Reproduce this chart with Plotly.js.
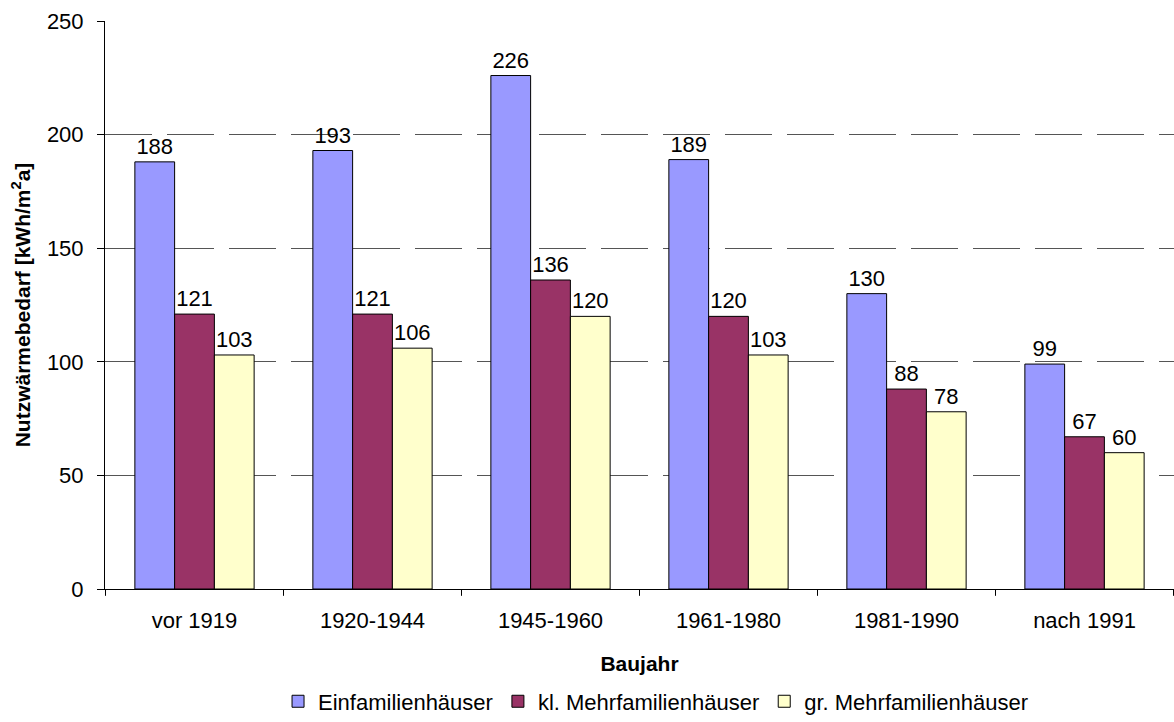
<!DOCTYPE html>
<html><head><meta charset="utf-8">
<script src="https://cdn.plot.ly/plotly-3.0.1.min.js"></script>
<style>html,body{margin:0;padding:0;background:#fff;}#chart{width:1174px;height:722px;}</style>
</head><body><div id="chart"></div>
<script>
var categories = ["vor 1919", "1920-1944", "1945-1960", "1961-1980", "1981-1990", "nach 1991"];
var einfamilien = [188, 193, 226, 189, 130, 99];
var klMehrfamilien = [121, 121, 136, 120, 88, 67];
var grMehrfamilien = [103, 106, 120, 103, 78, 60];
var seriesNames = ["Einfamilienhäuser", "kl. Mehrfamilienhäuser", "gr. Mehrfamilienhäuser"];
var colors = ["#9999FF", "#993366", "#FFFFCC"];
var font = "Liberation Sans, Arial, sans-serif";

function mk(vals, i) {
  return {
    type: "bar", x: categories, y: vals, name: seriesNames[i],
    marker: {color: colors[i], line: {color: "#000", width: 1}},
    text: vals.map(String), textposition: "outside", cliponaxis: false,
    constraintext: "none",
    textfont: {family: font, size: 22, color: "#000"}
  };
}
var data = [mk(einfamilien, 0), mk(klMehrfamilien, 1), mk(grMehrfamilien, 2)];
var layout = {
  width: 1174, height: 722,
  margin: {l: 105, r: 0, t: 21, b: 133, autoexpand: false},
  paper_bgcolor: "#fff", plot_bgcolor: "#fff",
  barmode: "group", bargap: 0.33, bargroupgap: 0,
  font: {family: font, size: 22, color: "#000"},
  showlegend: true,
  legend: {orientation: "h", x: 0.515, xanchor: "center", y: -0.198, yanchor: "middle",
           font: {family: font, size: 22}, itemwidth: 30, tracegroupgap: 0,
           bgcolor: "rgba(0,0,0,0)"},
  xaxis: {
    title: {text: "<b>Baujahr</b>", font: {family: font, size: 21}, standoff: 23},
    tickmode: "array", tickvals: categories, ticktext: categories,
    showline: true, linecolor: "#000", linewidth: 1, automargin: false,
    ticks: "", showgrid: false, zeroline: false, ticklabelstandoff: 12,
    tickfont: {family: font, size: 22}
  },
  yaxis: {
    title: {text: "<b>Nutzwärmebedarf [kWh/m<sup>2</sup>a]</b>", font: {family: font, size: 21}, standoff: 10},
    range: [0, 250], dtick: 50, tick0: 0, automargin: false,
    showline: true, linecolor: "#000", linewidth: 1,
    ticks: "outside", ticklen: 7, tickcolor: "#000", ticklabelstandoff: 9,
    showgrid: true, gridcolor: "#555", griddash: "47px,15px", gridwidth: 1,
    zeroline: false, tickfont: {family: font, size: 22}
  },
  shapes: [0,1,2,3,4,5,6].map(function(k){
    return {type: "line", xref: "x", yref: "paper", x0: k - 0.5, x1: k - 0.5, y0: 0, y1: -0.012,
            line: {color: "#000", width: 1}};
  })
};
Plotly.newPlot("chart", data, layout, {displayModeBar: false, staticPlot: true});
</script></body></html>
